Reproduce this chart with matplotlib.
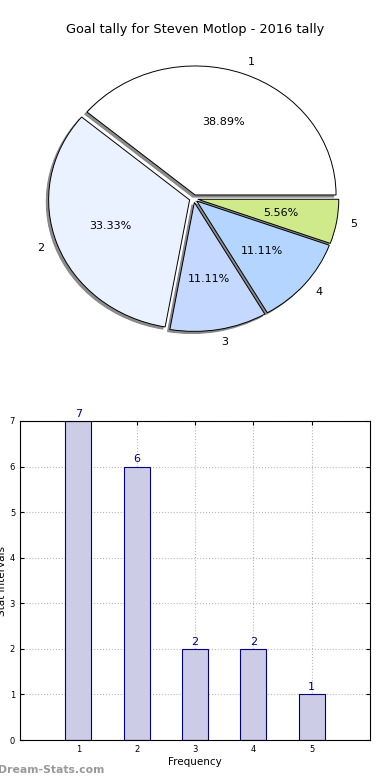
import matplotlib
matplotlib.use("Agg")
import matplotlib.pyplot as plt

title = "Goal tally for Steven Motlop - 2016 tally"
categories = ["1", "2", "3", "4", "5"]
values = [7, 6, 2, 2, 1]
pie_colors = ["#FFFFFF", "#EAF1FF", "#C5D8FF", "#B3D5FF", "#CFEA8A"]
bar_x = [1, 2, 3, 4, 5]
xlabel = "Frequency"
ylabel = "Stat Intervals"
watermark = "Dream-Stats.com"

fig = plt.figure(figsize=(3.9, 7.8), dpi=100)
plt.rcParams['font.family'] = ['DejaVu Sans']

# Pie
axp = fig.add_axes([24.4/390, 426.6/780, 338.4/390, 309.6/780])
wedges, texts, autotexts = axp.pie(
    values, labels=categories, colors=pie_colors, explode=[0.03]*5,
    autopct='%1.2f%%', startangle=0, counterclock=True,
    shadow={'ox': -0.012, 'oy': -0.012, 'facecolor': '#808080', 'edgecolor': '#808080', 'alpha': 0.9},
    wedgeprops={'edgecolor': 'black', 'linewidth': 0.7},
    textprops={'fontsize': 8})
axp.set_aspect('auto')
axp.set_xlim(-1.2, 1.2)
axp.set_ylim(-1.2, 1.2)
axp.axis('off')
fig.text(0.5, 1 - 30/780, title, ha='center', va='center', fontsize=9.3)

# Bars
axb = fig.add_axes([20/390, 40/780, 350/390, 319/780])
bars = axb.bar(bar_x, values, width=0.45, align='center', color='#CCCCE6',
               edgecolor='#000080', linewidth=0.8, zorder=2)
for x, v in zip(bar_x, values):
    axb.text(x, v + 0.05, str(v), ha='center', va='bottom', fontsize=8, color='#000080')
axb.set_xlim(0, 6)
axb.set_ylim(0, 7)
axb.set_xticks(bar_x)
axb.set_yticks(range(0, 8))
axb.tick_params(labelsize=6, direction='in', length=3, right=True, top=True)
axb.grid(True, linestyle=':', color='#b8b8b8', linewidth=0.8, zorder=0)
axb.set_axisbelow(True)
axb.set_xlabel(xlabel, fontsize=7.5, labelpad=2)
axb.set_ylabel(ylabel, fontsize=7.5, labelpad=2)
for s in axb.spines.values():
    s.set_linewidth(0.8)

fig.text(-0.004, 1 - 770/780, watermark, ha='left', va='center', fontsize=7.8,
         color='#999999', fontweight='bold')

fig.savefig("out.png", dpi=100)
